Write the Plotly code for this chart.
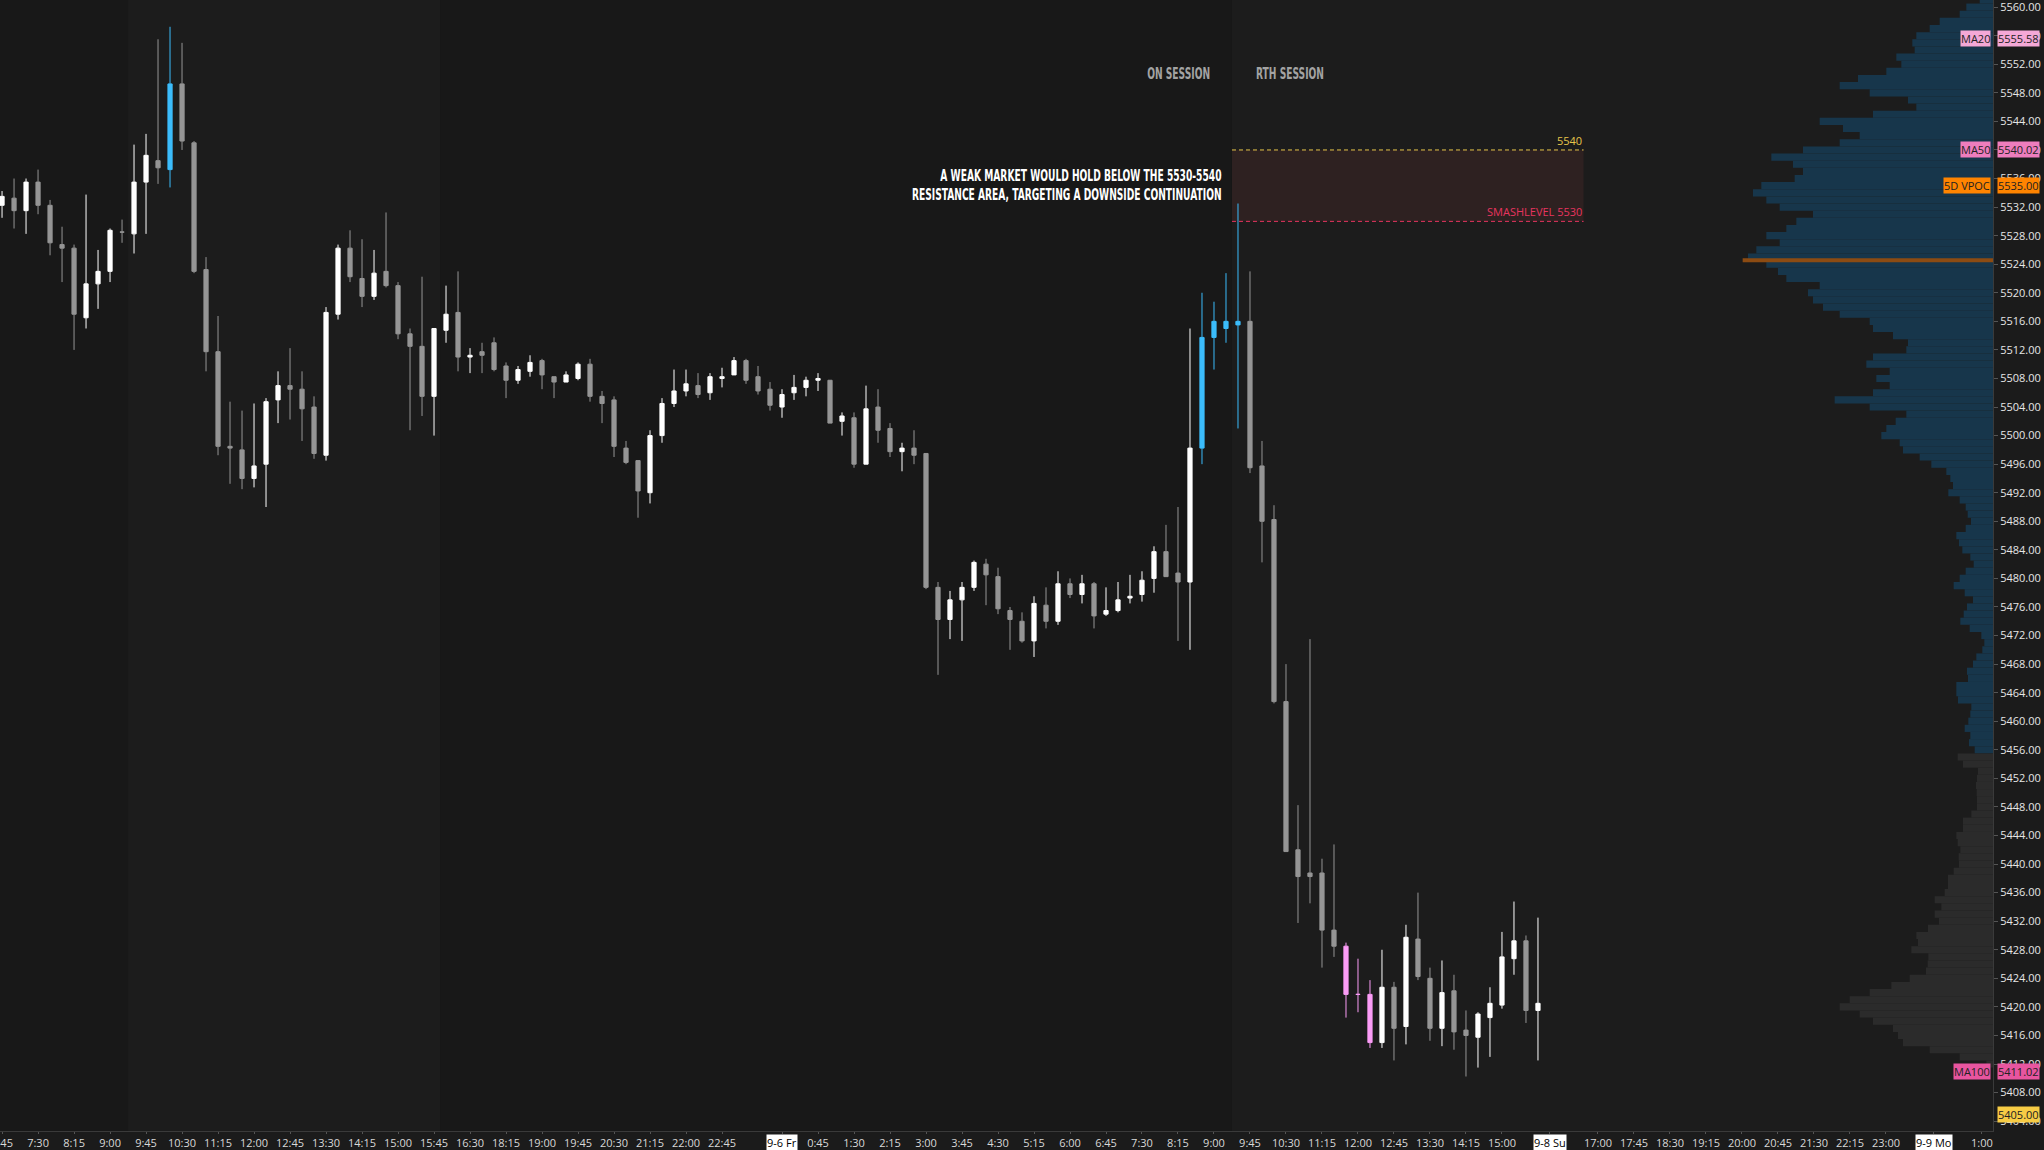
import plotly.graph_objects as go

# ---------------- data ----------------
# 15-minute bars, bar index 0 = Thu 9:45
bar_idx = list(range(-12, 117))
opens = [5532.25,5533.25,5531.5,5535.5,5532.25,5526.75,5526.25,5516.5,5521.25,5523,5528.5,5528.25,
         5535.5,5538.5,5537.25,5549.25,5541,5523.25,5511.75,5498.5,5498,5494,5496,5505,
         5507,5506.5,5504,5497.25,5517,5526.25,5522,5519.5,5523,5521,5514.25,5512.5,
         5505.5,5514.75,5517.25,5511,5511.75,5513,5509.75,5507.75,5509,5510.5,5508.25,5507.5,
         5508,5510,5505.5,5505,5498.25,5496.5,5492,5500,5504.5,5506.25,5507,5506,
         5508,5508.5,5510.5,5508.25,5506.5,5504,5506,5506.75,5507.75,5507.75,5502,5502.5,
         5496,5504,5501,5497.75,5498.25,5497.5,5478.75,5474.25,5477,5478.75,5482,5480.25,
         5475.5,5474,5471.25,5476.25,5474,5479.25,5477.75,5479.25,5475,5475.5,5477.25,5477.75,
         5480,5483.75,5480.75,5479.5,5498.25,5513.75,5515,5515.5,5516,5495.75,5488.25,5462.75,
         5442,5438.75,5438.75,5430.75,5428.5,5421.75,5421.75,5415,5422.75,5417.25,5429.5,5424,
         5417,5422.25,5416.75,5415.75,5418.5,5420.25,5426.75,5429.25,5419.5]
highs = [5534.25,5536,5536,5537.25,5533,5529.25,5526.75,5533.75,5526,5529,5530.25,5540.75,
         5542.25,5555.5,5557.25,5555,5541.25,5525,5516.75,5504.75,5503.5,5504.5,5505.25,5509,
         5512.25,5509,5505.5,5518,5526.75,5528.75,5527.5,5526,5531.25,5521.5,5515,5522.25,
         5515,5521,5523,5512.25,5513,5513.75,5510.25,5509.75,5511.25,5510.75,5508.25,5509,
         5510.25,5510.75,5506.25,5505.5,5499.25,5496.5,5500.75,5505.25,5509.25,5509.25,5508.75,5508.75,
         5509.5,5511,5510.75,5509.75,5507.5,5506.5,5508.5,5508.25,5508.75,5507.75,5503.25,5503.25,
         5507,5506.5,5501.75,5499,5500.75,5497.5,5479.5,5478.25,5479.5,5482.5,5482.75,5481.5,
         5476,5475.25,5477.5,5478.75,5481,5480,5480.5,5479.5,5478.75,5479.5,5480.5,5481,
         5484.5,5487.5,5490,5515,5520,5518.75,5522.75,5532.5,5523,5499.25,5490.25,5468,
         5448.25,5471.5,5440.75,5442.75,5429,5426.75,5423.75,5428,5423.5,5431.5,5436,5425.5,
         5426.5,5424.5,5419.5,5419.25,5422.75,5430.5,5434.75,5430,5432.5]
lows = [5530.5,5529,5528.25,5531,5525.25,5521.5,5512,5515,5517.75,5521.5,5527,5525.5,
        5528.25,5535.25,5534.75,5540,5522.75,5509,5497.25,5493.25,5492.5,5492.75,5490,5501.75,
        5502.25,5499.25,5496.75,5496.5,5516.25,5521.5,5518,5519,5520.75,5513.5,5500.75,5502.75,
        5500,5513,5509,5508.75,5508.75,5509,5505.25,5507.25,5508.25,5506.5,5505.25,5507.5,
        5507.75,5504.75,5501.75,5497,5496,5488.5,5490.5,5499,5504,5505.5,5505.25,5505,
        5506.75,5508.5,5507.25,5505.75,5503.5,5502.5,5505,5505.5,5506.25,5501.75,5500,5495.5,
        5496,5499,5497,5495,5496,5478.5,5466.5,5471.5,5471.25,5478.25,5476.25,5475,
        5470,5471,5469,5473,5473.5,5477.25,5476.5,5473,5474.75,5475.25,5476.5,5476.75,
        5478,5480.25,5471.25,5470,5496,5509.25,5513,5501,5494.75,5482.25,5462.5,5441.75,
        5431.75,5434.5,5425.5,5427,5418.5,5419.25,5414.25,5414.25,5412.5,5414.75,5423.75,5415.25,
        5414.5,5414,5410.25,5411.5,5413,5419.75,5424.5,5417.75,5412.5]
closes = [5533.5,5531.5,5535.5,5532.25,5527,5526.25,5517,5521.25,5523,5528.75,5528.5,5535.5,
          5539.25,5537.5,5549.25,5541.25,5523,5511.75,5498.5,5498.25,5494,5495.75,5504.75,5507,
          5506.5,5503.75,5497.5,5517.25,5526.25,5522.25,5519.5,5522.75,5521,5514.25,5512.5,5505.5,
          5515,5517,5511,5511.25,5511.25,5509.25,5507.75,5509.25,5510.25,5508.5,5507.5,5508.5,
          5510,5505.5,5504.5,5498.5,5496.25,5492.25,5500,5504.5,5506.25,5507.25,5505.75,5508.25,
          5508.25,5510.5,5507.75,5506.25,5504.25,5505.75,5506.75,5507.75,5508,5501.75,5502.75,5496,
          5503.75,5500.75,5497.75,5498.25,5497.25,5478.75,5474.25,5477,5478.75,5482.25,5480.5,5475.75,
          5474.25,5471.25,5476.5,5474,5479.25,5477.75,5479.25,5474.75,5475.5,5477,5477.5,5479.75,
          5483.75,5480.25,5479.5,5498.25,5513.75,5516,5516,5516,5495.5,5488,5462.75,5441.75,
          5438.25,5438.25,5430.75,5428.5,5421.75,5421.75,5415,5422.75,5417,5429.75,5424.25,5417,
          5422,5416.5,5416,5419,5420.5,5427,5429.25,5419.5,5420.5]
blue_bars = [2, 88, 89, 90, 91]
pink_bars = [100, 101, 102]

# x-axis labels (bar index -> label)
tick_idx = [-12,-9,-6,-3,0,3,6,9,12,15,18,21,24,27,30,33,36,39,42,45,48,53,56,59,62,65,68,71,74,77,80,
            83,86,89,92,95,98,101,104,107,110,113,117,121,124,127,130,133,136,139,142,145,149,153]
tick_text = ["6:45","7:30","8:15","9:00","9:45","10:30","11:15","12:00","12:45","13:30","14:15","15:00",
             "15:45","16:30","18:15","19:00","19:45","20:30","21:15","22:00","22:45","9-6 Fr","0:45","1:30",
             "2:15","3:00","3:45","4:30","5:15","6:00","6:45","7:30","8:15","9:00","9:45","10:30","11:15",
             "12:00","12:45","13:30","14:15","15:00","9-8 Su","17:00","17:45","18:30","19:15","20:00",
             "20:45","21:30","22:15","23:00","9-9 Mo","1:00"]
day_labels = ["9-6 Fr", "9-8 Su", "9-9 Mo"]

# volume profile (price level -> relative volume)
profile_price = list(range(5561, 5411, -1))
profile_vol = [40,80,100,160,190,230,242,235,290,275,320,405,460,370,255,230,360,520,450,400,460,
               570,665,600,570,595,695,720,680,640,540,590,620,680,640,710,735,680,645,620,520,555,
               540,510,460,370,360,300,255,260,360,380,310,350,310,360,475,370,260,292,320,335,280,
               270,220,185,140,128,120,134,100,82,76,66,82,110,102,92,68,58,82,100,118,85,60,78,
               88,98,70,35,26,32,50,60,78,75,110,110,105,65,68,74,85,68,72,55,106,90,45,48,51,49,
               48,48,65,90,90,110,106,98,103,102,118,135,135,145,175,155,175,162,195,230,225,245,
               194,196,201,250,305,370,430,460,400,360,300,285,270,190,100,20]
value_area_low = 5455.5
poc_price = 5524.57
poc_vol = 751

# price markers on the right axis
level_names = ["MA20", "MA50", "5D VPOC", "MA100", ""]
level_values = [5555.58, 5540.02, 5535.00, 5411.02, 5405.00]
level_colors = ["#f4a8d6", "#ee7dbd", "#ff8400", "#e8559f", "#f7cc45"]

# RTH sessions (bar-index boundaries) and resistance zone
rth_sessions = [(-1.5, 24.5), (90.5, 160)]
zone_low, zone_high = 5530, 5540
zone_x = (90.5, 119.8)

# ---------------- figure ----------------
X_MIN, X_MAX = -12.17, 153.92
Y_MIN, Y_MAX = 5402.62, 5561.0

fig = go.Figure()

# volume profile
prof_colors = ["#17364b" if p >= value_area_low else "#2b2b2b" for p in profile_price]
fig.add_trace(go.Bar(
    y=profile_price, x=profile_vol, orientation="h", xaxis="x2", yaxis="y",
    width=1.0, marker=dict(color=prof_colors, line=dict(width=0)),
    hoverinfo="skip", showlegend=False))

groups = {"white": [], "gray": [], "blue": [], "pink": []}
for k, i in enumerate(bar_idx):
    if i in blue_bars:
        g = "blue"
    elif i in pink_bars:
        g = "pink"
    elif closes[k] > opens[k]:
        g = "white"
    else:
        g = "gray"
    groups[g].append(k)

gcolors = {"white": "#ffffff", "gray": "#959595", "blue": "#3bbcfb", "pink": "#fb9cf6"}
for g, ks in groups.items():
    if not ks:
        continue
    c = gcolors[g]
    fig.add_trace(go.Candlestick(
        x=[bar_idx[k] for k in ks],
        open=[opens[k] for k in ks], high=[highs[k] for k in ks],
        low=[lows[k] for k in ks], close=[closes[k] for k in ks],
        increasing=dict(line=dict(color=c, width=1), fillcolor=c),
        decreasing=dict(line=dict(color=c, width=1), fillcolor=c),
        whiskerwidth=0, hoverinfo="skip", showlegend=False))

shapes = []
for a, b in rth_sessions:
    shapes.append(dict(type="rect", xref="x", yref="paper", x0=a, x1=min(b, X_MAX), y0=0, y1=1,
                       fillcolor="#1c1c1c", line=dict(width=0), layer="below"))
shapes.append(dict(type="rect", xref="x", yref="y", x0=zone_x[0], x1=zone_x[1], y0=zone_low, y1=zone_high,
                   fillcolor="#2e2121", line=dict(width=0), layer="below"))
shapes.append(dict(type="line", xref="x", yref="y", x0=zone_x[0], x1=zone_x[1], y0=zone_high, y1=zone_high,
                   line=dict(color="#e6c54a", width=1, dash="4px,3px")))
shapes.append(dict(type="line", xref="x", yref="y", x0=zone_x[0], x1=zone_x[1], y0=zone_low, y1=zone_low,
                   line=dict(color="#e8345f", width=1, dash="4px,3px")))
shapes.append(dict(type="line", xref="x2", yref="y", x0=poc_vol, x1=0, y0=poc_price, y1=poc_price,
                   line=dict(color="#8c4b12", width=4)))

title_font = "Liberation Sans Narrow, DejaVu Sans Condensed, Roboto, sans-serif"
ann = []
ann.append(dict(x=zone_x[1], y=zone_high, xref="x", yref="y", text=str(zone_high), showarrow=False,
                xanchor="right", yanchor="bottom", yshift=0,
                font=dict(family="Open Sans", size=11, color="#e6c54a")))
ann.append(dict(x=zone_x[1], y=zone_low, xref="x", yref="y", text="SMASHLEVEL %d" % zone_low, showarrow=False,
                xanchor="right", yanchor="bottom", yshift=0,
                font=dict(family="Open Sans", size=11, color="#e8345f")))
ann.append(dict(x=89.85, y=5535.0, xref="x", yref="y", showarrow=False, xanchor="right", yanchor="middle",
                align="right",
                text="<b>A WEAK MARKET WOULD HOLD BELOW THE 5530-5540<br>RESISTANCE AREA, TARGETING A DOWNSIDE CONTINUATION</b>",
                font=dict(family=title_font, size=15, color="#ffffff")))
ann.append(dict(x=88.8, y=5550.68, xref="x", yref="y", showarrow=False, xanchor="right", yanchor="middle",
                text="<b>ON SESSION</b>", font=dict(family=title_font, size=16, color="#a3a3a3")))
ann.append(dict(x=92.3, y=5550.68, xref="x", yref="y", showarrow=False, xanchor="left", yanchor="middle",
                text="<b>RTH SESSION</b>", font=dict(family=title_font, size=16, color="#a3a3a3")))

for name, val, col in zip(level_names, level_values, level_colors):
    ann.append(dict(x=1, y=val, xref="paper", yref="y", text="%.2f" % val, showarrow=False,
                    xanchor="left", yanchor="middle", xshift=4, bgcolor=col, borderpad=0,
                    font=dict(family="Open Sans", size=11, color="#222222")))
    if name:
        ann.append(dict(x=1, y=val, xref="paper", yref="y", text=name, showarrow=False,
                        xanchor="right", yanchor="middle", xshift=-2, bgcolor=col, borderpad=0,
                        font=dict(family="Open Sans", size=11, color="#222222")))

for t, v in zip(tick_text, tick_idx):
    if t in day_labels:
        ann.append(dict(x=v, y=0, xref="x", yref="paper", text=t, showarrow=False,
                        xanchor="center", yanchor="top", yshift=-3, bgcolor="#ffffff", borderpad=0,
                        font=dict(family="Open Sans", size=11, color="#000000")))

axis_text = [("" if t in day_labels else t) for t in tick_text]

fig.update_layout(
    width=2044, height=1150, autosize=False,
    margin=dict(l=0, r=51, t=0, b=19, pad=0, autoexpand=False),
    paper_bgcolor="#1b1b1b", plot_bgcolor="#181818",
    boxgap=0.5, showlegend=False,
    shapes=shapes, annotations=ann,
    xaxis=dict(range=[X_MIN, X_MAX], tickmode="array", tickvals=tick_idx, ticktext=axis_text,
               ticks="outside", ticklen=2, tickcolor="#555555", showgrid=False, zeroline=False,
               showline=True, linecolor="#3a3a3a", rangeslider=dict(visible=False),
               ticklabeloverflow="allow", automargin=False,
               tickfont=dict(family="Open Sans", size=11, color="#d8d8d8")),
    xaxis2=dict(overlaying="x", anchor="y", range=[1993 * 3, 0], visible=False, showgrid=False,
                zeroline=False),
    yaxis=dict(side="right", range=[Y_MIN, Y_MAX], tick0=5404, dtick=4, tickformat=".2f",
               ticks="outside", ticklen=4, tickcolor="#555555", showgrid=False, zeroline=False,
               showline=True, linecolor="#3a3a3a", ticklabeloverflow="allow", automargin=False,
               tickfont=dict(family="Open Sans", size=11, color="#e6e6e6")),
)

# page without body margin; condense the headline texts to the reference widths
post_js = """
document.body.style.margin = '0';
document.body.style.overflow = 'hidden';
var targets = [['A WEAK', 310, 'right'], ['ON SESSION', 63, 'right'], ['RTH SESSION', 68, 'left']];
document.querySelectorAll('g.annotation text.annotation-text').forEach(function(t) {
  var s = t.textContent;
  targets.forEach(function(tg) {
    if (s.indexOf(tg[0]) === 0) {
      var b = t.getBBox();
      var sx = tg[1] / b.width;
      var cx = tg[2] === 'right' ? b.x + b.width : b.x;
      t.setAttribute('transform', 'translate(' + cx + ',0) scale(' + sx + ',1) translate(' + (-cx) + ',0)');
    }
  });
});
"""

fig.write_html("out.html", config={"displayModeBar": False}, post_script=post_js)
